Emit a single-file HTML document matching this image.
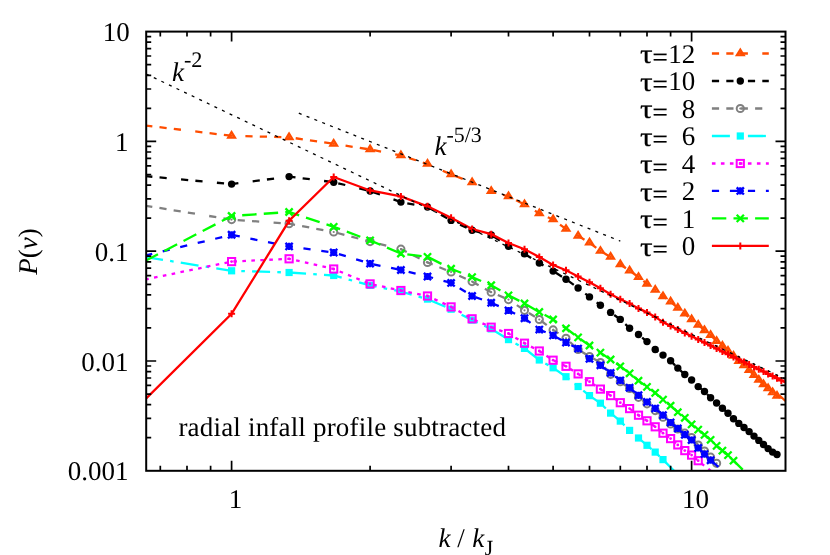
<!DOCTYPE html>
<html><head><meta charset="utf-8"><title>P(v) spectrum</title>
<style>
html,body{margin:0;padding:0;background:#fff;}
svg{display:block;transform:translateZ(0);will-change:transform;}
text{text-rendering:geometricPrecision;font-variant-ligatures:none;font-family:"Liberation Serif",serif;font-size:27px;fill:#000;}
.i{font-style:italic;}
</style></head><body>
<svg width="830" height="555" viewBox="0 0 830 555">
<rect width="830" height="555" fill="#fff"/>
<defs><clipPath id="c"><rect x="146.2" y="31.6" width="639.3" height="439.2"/></clipPath></defs>
<polyline points="145.2,125.5 231.6,135.8 289.1,137.3 333.7,143.8 370.1,149.5 400.9,155.4 427.5,164.0 451.1,174.4 472.1,182.5 491.2,191.2 508.5,196.5 524.5,204.5 539.3,213.5 553.1,219.5 566.0,229.1 578.1,235.9 589.5,242.7 600.4,251.1 610.6,256.9 620.3,264.5 629.6,270.6 638.5,277.1 647.0,283.8 655.2,290.0 663.0,296.4 670.6,301.7 677.8,307.9 684.8,313.7 691.6,319.4 698.2,324.9 704.5,330.3 710.6,335.2 716.6,341.1 722.4,346.0 728.0,351.0 733.5,356.0 738.8,361.2 744.0,365.5 749.1,370.2 754.0,375.1 758.8,379.9 763.5,384.4 768.1,388.5 772.6,392.5 777.0,396.0 786.5,401.2" fill="none" stroke="#ff4d00" stroke-width="2.3" stroke-dasharray="7.20 7.20 7.20 7.20 7.20 14.40" clip-path="url(#c)"/>
<path d="M231.6 131.9L228.1 137.6H235.1Z" fill="#ff4d00" fill-opacity="0.55" stroke="#ff4d00" stroke-width="2.1" stroke-linejoin="miter"/><circle cx="231.6" cy="135.6" r="1.2" fill="#ff4d00"/>
<path d="M289.1 133.4L285.6 139.1H292.6Z" fill="#ff4d00" fill-opacity="0.55" stroke="#ff4d00" stroke-width="2.1" stroke-linejoin="miter"/><circle cx="289.1" cy="137.1" r="1.2" fill="#ff4d00"/>
<path d="M333.7 139.9L330.2 145.6H337.2Z" fill="#ff4d00" fill-opacity="0.55" stroke="#ff4d00" stroke-width="2.1" stroke-linejoin="miter"/><circle cx="333.7" cy="143.6" r="1.2" fill="#ff4d00"/>
<path d="M370.1 145.6L366.6 151.2H373.6Z" fill="#ff4d00" fill-opacity="0.55" stroke="#ff4d00" stroke-width="2.1" stroke-linejoin="miter"/><circle cx="370.1" cy="149.3" r="1.2" fill="#ff4d00"/>
<path d="M400.9 151.5L397.4 157.2H404.4Z" fill="#ff4d00" fill-opacity="0.55" stroke="#ff4d00" stroke-width="2.1" stroke-linejoin="miter"/><circle cx="400.9" cy="155.2" r="1.2" fill="#ff4d00"/>
<path d="M427.5 160.1L424.0 165.8H431.0Z" fill="#ff4d00" fill-opacity="0.55" stroke="#ff4d00" stroke-width="2.1" stroke-linejoin="miter"/><circle cx="427.5" cy="163.8" r="1.2" fill="#ff4d00"/>
<path d="M451.1 170.5L447.6 176.2H454.6Z" fill="#ff4d00" fill-opacity="0.55" stroke="#ff4d00" stroke-width="2.1" stroke-linejoin="miter"/><circle cx="451.1" cy="174.2" r="1.2" fill="#ff4d00"/>
<path d="M472.1 178.6L468.6 184.2H475.6Z" fill="#ff4d00" fill-opacity="0.55" stroke="#ff4d00" stroke-width="2.1" stroke-linejoin="miter"/><circle cx="472.1" cy="182.3" r="1.2" fill="#ff4d00"/>
<path d="M491.2 187.3L487.7 192.9H494.7Z" fill="#ff4d00" fill-opacity="0.55" stroke="#ff4d00" stroke-width="2.1" stroke-linejoin="miter"/><circle cx="491.2" cy="191.0" r="1.2" fill="#ff4d00"/>
<path d="M508.5 192.6L505.0 198.2H512.0Z" fill="#ff4d00" fill-opacity="0.55" stroke="#ff4d00" stroke-width="2.1" stroke-linejoin="miter"/><circle cx="508.5" cy="196.3" r="1.2" fill="#ff4d00"/>
<path d="M524.5 200.6L521.0 206.2H528.0Z" fill="#ff4d00" fill-opacity="0.55" stroke="#ff4d00" stroke-width="2.1" stroke-linejoin="miter"/><circle cx="524.5" cy="204.3" r="1.2" fill="#ff4d00"/>
<path d="M539.3 209.6L535.8 215.2H542.8Z" fill="#ff4d00" fill-opacity="0.55" stroke="#ff4d00" stroke-width="2.1" stroke-linejoin="miter"/><circle cx="539.3" cy="213.3" r="1.2" fill="#ff4d00"/>
<path d="M553.1 215.6L549.6 221.2H556.6Z" fill="#ff4d00" fill-opacity="0.55" stroke="#ff4d00" stroke-width="2.1" stroke-linejoin="miter"/><circle cx="553.1" cy="219.3" r="1.2" fill="#ff4d00"/>
<path d="M566.0 225.2L562.5 230.8H569.5Z" fill="#ff4d00" fill-opacity="0.55" stroke="#ff4d00" stroke-width="2.1" stroke-linejoin="miter"/><circle cx="566.0" cy="228.9" r="1.2" fill="#ff4d00"/>
<path d="M578.1 232.0L574.6 237.7H581.6Z" fill="#ff4d00" fill-opacity="0.55" stroke="#ff4d00" stroke-width="2.1" stroke-linejoin="miter"/><circle cx="578.1" cy="235.7" r="1.2" fill="#ff4d00"/>
<path d="M589.5 238.8L586.0 244.4H593.0Z" fill="#ff4d00" fill-opacity="0.55" stroke="#ff4d00" stroke-width="2.1" stroke-linejoin="miter"/><circle cx="589.5" cy="242.5" r="1.2" fill="#ff4d00"/>
<path d="M600.4 247.2L596.9 252.8H603.9Z" fill="#ff4d00" fill-opacity="0.55" stroke="#ff4d00" stroke-width="2.1" stroke-linejoin="miter"/><circle cx="600.4" cy="250.9" r="1.2" fill="#ff4d00"/>
<path d="M610.6 253.0L607.1 258.6H614.1Z" fill="#ff4d00" fill-opacity="0.55" stroke="#ff4d00" stroke-width="2.1" stroke-linejoin="miter"/><circle cx="610.6" cy="256.7" r="1.2" fill="#ff4d00"/>
<path d="M620.3 260.6L616.8 266.2H623.8Z" fill="#ff4d00" fill-opacity="0.55" stroke="#ff4d00" stroke-width="2.1" stroke-linejoin="miter"/><circle cx="620.3" cy="264.3" r="1.2" fill="#ff4d00"/>
<path d="M629.6 266.7L626.1 272.4H633.1Z" fill="#ff4d00" fill-opacity="0.55" stroke="#ff4d00" stroke-width="2.1" stroke-linejoin="miter"/><circle cx="629.6" cy="270.4" r="1.2" fill="#ff4d00"/>
<path d="M638.5 273.2L635.0 278.9H642.0Z" fill="#ff4d00" fill-opacity="0.55" stroke="#ff4d00" stroke-width="2.1" stroke-linejoin="miter"/><circle cx="638.5" cy="276.9" r="1.2" fill="#ff4d00"/>
<path d="M647.0 279.9L643.5 285.6H650.5Z" fill="#ff4d00" fill-opacity="0.55" stroke="#ff4d00" stroke-width="2.1" stroke-linejoin="miter"/><circle cx="647.0" cy="283.6" r="1.2" fill="#ff4d00"/>
<path d="M655.2 286.1L651.7 291.8H658.7Z" fill="#ff4d00" fill-opacity="0.55" stroke="#ff4d00" stroke-width="2.1" stroke-linejoin="miter"/><circle cx="655.2" cy="289.8" r="1.2" fill="#ff4d00"/>
<path d="M663.0 292.5L659.5 298.1H666.5Z" fill="#ff4d00" fill-opacity="0.55" stroke="#ff4d00" stroke-width="2.1" stroke-linejoin="miter"/><circle cx="663.0" cy="296.2" r="1.2" fill="#ff4d00"/>
<path d="M670.6 297.8L667.1 303.4H674.1Z" fill="#ff4d00" fill-opacity="0.55" stroke="#ff4d00" stroke-width="2.1" stroke-linejoin="miter"/><circle cx="670.6" cy="301.5" r="1.2" fill="#ff4d00"/>
<path d="M677.8 304.0L674.3 309.6H681.3Z" fill="#ff4d00" fill-opacity="0.55" stroke="#ff4d00" stroke-width="2.1" stroke-linejoin="miter"/><circle cx="677.8" cy="307.7" r="1.2" fill="#ff4d00"/>
<path d="M684.8 309.8L681.3 315.4H688.3Z" fill="#ff4d00" fill-opacity="0.55" stroke="#ff4d00" stroke-width="2.1" stroke-linejoin="miter"/><circle cx="684.8" cy="313.5" r="1.2" fill="#ff4d00"/>
<path d="M691.6 315.5L688.1 321.1H695.1Z" fill="#ff4d00" fill-opacity="0.55" stroke="#ff4d00" stroke-width="2.1" stroke-linejoin="miter"/><circle cx="691.6" cy="319.2" r="1.2" fill="#ff4d00"/>
<path d="M698.2 321.0L694.7 326.6H701.7Z" fill="#ff4d00" fill-opacity="0.55" stroke="#ff4d00" stroke-width="2.1" stroke-linejoin="miter"/><circle cx="698.2" cy="324.7" r="1.2" fill="#ff4d00"/>
<path d="M704.5 326.4L701.0 332.1H708.0Z" fill="#ff4d00" fill-opacity="0.55" stroke="#ff4d00" stroke-width="2.1" stroke-linejoin="miter"/><circle cx="704.5" cy="330.1" r="1.2" fill="#ff4d00"/>
<path d="M710.6 331.3L707.1 336.9H714.1Z" fill="#ff4d00" fill-opacity="0.55" stroke="#ff4d00" stroke-width="2.1" stroke-linejoin="miter"/><circle cx="710.6" cy="335.0" r="1.2" fill="#ff4d00"/>
<path d="M716.6 337.2L713.1 342.9H720.1Z" fill="#ff4d00" fill-opacity="0.55" stroke="#ff4d00" stroke-width="2.1" stroke-linejoin="miter"/><circle cx="716.6" cy="340.9" r="1.2" fill="#ff4d00"/>
<path d="M722.4 342.1L718.9 347.8H725.9Z" fill="#ff4d00" fill-opacity="0.55" stroke="#ff4d00" stroke-width="2.1" stroke-linejoin="miter"/><circle cx="722.4" cy="345.8" r="1.2" fill="#ff4d00"/>
<path d="M728.0 347.1L724.5 352.8H731.5Z" fill="#ff4d00" fill-opacity="0.55" stroke="#ff4d00" stroke-width="2.1" stroke-linejoin="miter"/><circle cx="728.0" cy="350.8" r="1.2" fill="#ff4d00"/>
<path d="M733.5 352.1L730.0 357.8H737.0Z" fill="#ff4d00" fill-opacity="0.55" stroke="#ff4d00" stroke-width="2.1" stroke-linejoin="miter"/><circle cx="733.5" cy="355.8" r="1.2" fill="#ff4d00"/>
<path d="M738.8 357.3L735.3 362.9H742.3Z" fill="#ff4d00" fill-opacity="0.55" stroke="#ff4d00" stroke-width="2.1" stroke-linejoin="miter"/><circle cx="738.8" cy="361.0" r="1.2" fill="#ff4d00"/>
<path d="M744.0 361.6L740.5 367.2H747.5Z" fill="#ff4d00" fill-opacity="0.55" stroke="#ff4d00" stroke-width="2.1" stroke-linejoin="miter"/><circle cx="744.0" cy="365.3" r="1.2" fill="#ff4d00"/>
<path d="M749.1 366.3L745.6 371.9H752.6Z" fill="#ff4d00" fill-opacity="0.55" stroke="#ff4d00" stroke-width="2.1" stroke-linejoin="miter"/><circle cx="749.1" cy="370.0" r="1.2" fill="#ff4d00"/>
<path d="M754.0 371.2L750.5 376.9H757.5Z" fill="#ff4d00" fill-opacity="0.55" stroke="#ff4d00" stroke-width="2.1" stroke-linejoin="miter"/><circle cx="754.0" cy="374.9" r="1.2" fill="#ff4d00"/>
<path d="M758.8 376.0L755.3 381.6H762.3Z" fill="#ff4d00" fill-opacity="0.55" stroke="#ff4d00" stroke-width="2.1" stroke-linejoin="miter"/><circle cx="758.8" cy="379.7" r="1.2" fill="#ff4d00"/>
<path d="M763.5 380.5L760.0 386.1H767.0Z" fill="#ff4d00" fill-opacity="0.55" stroke="#ff4d00" stroke-width="2.1" stroke-linejoin="miter"/><circle cx="763.5" cy="384.2" r="1.2" fill="#ff4d00"/>
<path d="M768.1 384.6L764.6 390.2H771.6Z" fill="#ff4d00" fill-opacity="0.55" stroke="#ff4d00" stroke-width="2.1" stroke-linejoin="miter"/><circle cx="768.1" cy="388.3" r="1.2" fill="#ff4d00"/>
<path d="M772.6 388.6L769.1 394.2H776.1Z" fill="#ff4d00" fill-opacity="0.55" stroke="#ff4d00" stroke-width="2.1" stroke-linejoin="miter"/><circle cx="772.6" cy="392.3" r="1.2" fill="#ff4d00"/>
<path d="M777.0 392.1L773.5 397.8H780.5Z" fill="#ff4d00" fill-opacity="0.55" stroke="#ff4d00" stroke-width="2.1" stroke-linejoin="miter"/><circle cx="777.0" cy="395.8" r="1.2" fill="#ff4d00"/>
<path d="M779.5 395.5L785.5 401" stroke="#ff4d00" stroke-width="2.3" fill="none"/>
<polyline points="145.2,176.1 231.6,184.1 289.1,176.6 333.7,182.2 370.1,191.0 400.9,202.1 427.5,207.0 451.1,220.4 472.1,230.3 491.2,235.0 508.5,246.3 524.5,253.9 539.3,263.0 553.1,271.1 566.0,279.2 578.1,288.0 589.5,296.9 600.4,305.2 610.6,312.4 620.3,319.4 629.6,328.2 638.5,334.5 647.0,341.6 655.2,349.5 663.0,355.1 670.6,360.8 677.8,368.1 684.8,374.5 691.6,380.0 698.2,386.6 704.5,391.5 710.6,397.7 716.6,403.0 722.4,408.2 728.0,413.2 733.5,418.7 738.8,423.4 744.0,427.5 749.1,431.6 754.0,436.1 758.8,440.4 763.5,444.5 768.1,448.6 772.6,452.1 777.0,454.5" fill="none" stroke="#000000" stroke-width="2.3" stroke-dasharray="7.20 7.20 7.20 14.40" clip-path="url(#c)"/>
<circle cx="231.6" cy="184.1" r="3.7" fill="#000000"/>
<circle cx="289.1" cy="176.6" r="3.7" fill="#000000"/>
<circle cx="333.7" cy="182.2" r="3.7" fill="#000000"/>
<circle cx="370.1" cy="191.0" r="3.7" fill="#000000"/>
<circle cx="400.9" cy="202.1" r="3.7" fill="#000000"/>
<circle cx="427.5" cy="207.0" r="3.7" fill="#000000"/>
<circle cx="451.1" cy="220.4" r="3.7" fill="#000000"/>
<circle cx="472.1" cy="230.3" r="3.7" fill="#000000"/>
<circle cx="491.2" cy="235.0" r="3.7" fill="#000000"/>
<circle cx="508.5" cy="246.3" r="3.7" fill="#000000"/>
<circle cx="524.5" cy="253.9" r="3.7" fill="#000000"/>
<circle cx="539.3" cy="263.0" r="3.7" fill="#000000"/>
<circle cx="553.1" cy="271.1" r="3.7" fill="#000000"/>
<circle cx="566.0" cy="279.2" r="3.7" fill="#000000"/>
<circle cx="578.1" cy="288.0" r="3.7" fill="#000000"/>
<circle cx="589.5" cy="296.9" r="3.7" fill="#000000"/>
<circle cx="600.4" cy="305.2" r="3.7" fill="#000000"/>
<circle cx="610.6" cy="312.4" r="3.7" fill="#000000"/>
<circle cx="620.3" cy="319.4" r="3.7" fill="#000000"/>
<circle cx="629.6" cy="328.2" r="3.7" fill="#000000"/>
<circle cx="638.5" cy="334.5" r="3.7" fill="#000000"/>
<circle cx="647.0" cy="341.6" r="3.7" fill="#000000"/>
<circle cx="655.2" cy="349.5" r="3.7" fill="#000000"/>
<circle cx="663.0" cy="355.1" r="3.7" fill="#000000"/>
<circle cx="670.6" cy="360.8" r="3.7" fill="#000000"/>
<circle cx="677.8" cy="368.1" r="3.7" fill="#000000"/>
<circle cx="684.8" cy="374.5" r="3.7" fill="#000000"/>
<circle cx="691.6" cy="380.0" r="3.7" fill="#000000"/>
<circle cx="698.2" cy="386.6" r="3.7" fill="#000000"/>
<circle cx="704.5" cy="391.5" r="3.7" fill="#000000"/>
<circle cx="710.6" cy="397.7" r="3.7" fill="#000000"/>
<circle cx="716.6" cy="403.0" r="3.7" fill="#000000"/>
<circle cx="722.4" cy="408.2" r="3.7" fill="#000000"/>
<circle cx="728.0" cy="413.2" r="3.7" fill="#000000"/>
<circle cx="733.5" cy="418.7" r="3.7" fill="#000000"/>
<circle cx="738.8" cy="423.4" r="3.7" fill="#000000"/>
<circle cx="744.0" cy="427.5" r="3.7" fill="#000000"/>
<circle cx="749.1" cy="431.6" r="3.7" fill="#000000"/>
<circle cx="754.0" cy="436.1" r="3.7" fill="#000000"/>
<circle cx="758.8" cy="440.4" r="3.7" fill="#000000"/>
<circle cx="763.5" cy="444.5" r="3.7" fill="#000000"/>
<circle cx="768.1" cy="448.6" r="3.7" fill="#000000"/>
<circle cx="772.6" cy="452.1" r="3.7" fill="#000000"/>
<circle cx="777.0" cy="454.5" r="3.7" fill="#000000"/>
<polyline points="145.2,205.7 231.6,219.6 289.1,223.7 333.7,232.0 370.1,241.6 400.9,249.2 427.5,262.4 451.1,272.0 472.1,281.6 491.2,292.2 508.5,299.6 524.5,310.3 539.3,319.5 553.1,329.9 566.0,338.3 578.1,349.5 589.5,356.5 600.4,362.5 610.6,374.3 620.3,381.7 629.6,388.5 638.5,397.3 647.0,403.8 655.2,410.6 663.0,417.2 670.6,424.0 677.8,429.0 684.8,433.2 691.6,437.5 698.2,445.0 704.5,451.0 710.6,457.2 716.6,463.3" fill="none" stroke="#808080" stroke-width="2.3" stroke-dasharray="7.20 7.20 7.20 7.20 7.20 7.20 7.20 14.40" clip-path="url(#c)"/>
<circle cx="231.6" cy="219.6" r="3.6" stroke="#808080" stroke-width="2.0" fill="none"/><circle cx="231.6" cy="219.6" r="1.1" fill="#808080"/>
<circle cx="289.1" cy="223.7" r="3.6" stroke="#808080" stroke-width="2.0" fill="none"/><circle cx="289.1" cy="223.7" r="1.1" fill="#808080"/>
<circle cx="333.7" cy="232.0" r="3.6" stroke="#808080" stroke-width="2.0" fill="none"/><circle cx="333.7" cy="232.0" r="1.1" fill="#808080"/>
<circle cx="370.1" cy="241.6" r="3.6" stroke="#808080" stroke-width="2.0" fill="none"/><circle cx="370.1" cy="241.6" r="1.1" fill="#808080"/>
<circle cx="400.9" cy="249.2" r="3.6" stroke="#808080" stroke-width="2.0" fill="none"/><circle cx="400.9" cy="249.2" r="1.1" fill="#808080"/>
<circle cx="427.5" cy="262.4" r="3.6" stroke="#808080" stroke-width="2.0" fill="none"/><circle cx="427.5" cy="262.4" r="1.1" fill="#808080"/>
<circle cx="451.1" cy="272.0" r="3.6" stroke="#808080" stroke-width="2.0" fill="none"/><circle cx="451.1" cy="272.0" r="1.1" fill="#808080"/>
<circle cx="472.1" cy="281.6" r="3.6" stroke="#808080" stroke-width="2.0" fill="none"/><circle cx="472.1" cy="281.6" r="1.1" fill="#808080"/>
<circle cx="491.2" cy="292.2" r="3.6" stroke="#808080" stroke-width="2.0" fill="none"/><circle cx="491.2" cy="292.2" r="1.1" fill="#808080"/>
<circle cx="508.5" cy="299.6" r="3.6" stroke="#808080" stroke-width="2.0" fill="none"/><circle cx="508.5" cy="299.6" r="1.1" fill="#808080"/>
<circle cx="524.5" cy="310.3" r="3.6" stroke="#808080" stroke-width="2.0" fill="none"/><circle cx="524.5" cy="310.3" r="1.1" fill="#808080"/>
<circle cx="539.3" cy="319.5" r="3.6" stroke="#808080" stroke-width="2.0" fill="none"/><circle cx="539.3" cy="319.5" r="1.1" fill="#808080"/>
<circle cx="553.1" cy="329.9" r="3.6" stroke="#808080" stroke-width="2.0" fill="none"/><circle cx="553.1" cy="329.9" r="1.1" fill="#808080"/>
<circle cx="566.0" cy="338.3" r="3.6" stroke="#808080" stroke-width="2.0" fill="none"/><circle cx="566.0" cy="338.3" r="1.1" fill="#808080"/>
<circle cx="578.1" cy="349.5" r="3.6" stroke="#808080" stroke-width="2.0" fill="none"/><circle cx="578.1" cy="349.5" r="1.1" fill="#808080"/>
<circle cx="589.5" cy="356.5" r="3.6" stroke="#808080" stroke-width="2.0" fill="none"/><circle cx="589.5" cy="356.5" r="1.1" fill="#808080"/>
<circle cx="600.4" cy="362.5" r="3.6" stroke="#808080" stroke-width="2.0" fill="none"/><circle cx="600.4" cy="362.5" r="1.1" fill="#808080"/>
<circle cx="610.6" cy="374.3" r="3.6" stroke="#808080" stroke-width="2.0" fill="none"/><circle cx="610.6" cy="374.3" r="1.1" fill="#808080"/>
<circle cx="620.3" cy="381.7" r="3.6" stroke="#808080" stroke-width="2.0" fill="none"/><circle cx="620.3" cy="381.7" r="1.1" fill="#808080"/>
<circle cx="629.6" cy="388.5" r="3.6" stroke="#808080" stroke-width="2.0" fill="none"/><circle cx="629.6" cy="388.5" r="1.1" fill="#808080"/>
<circle cx="638.5" cy="397.3" r="3.6" stroke="#808080" stroke-width="2.0" fill="none"/><circle cx="638.5" cy="397.3" r="1.1" fill="#808080"/>
<circle cx="647.0" cy="403.8" r="3.6" stroke="#808080" stroke-width="2.0" fill="none"/><circle cx="647.0" cy="403.8" r="1.1" fill="#808080"/>
<circle cx="655.2" cy="410.6" r="3.6" stroke="#808080" stroke-width="2.0" fill="none"/><circle cx="655.2" cy="410.6" r="1.1" fill="#808080"/>
<circle cx="663.0" cy="417.2" r="3.6" stroke="#808080" stroke-width="2.0" fill="none"/><circle cx="663.0" cy="417.2" r="1.1" fill="#808080"/>
<circle cx="670.6" cy="424.0" r="3.6" stroke="#808080" stroke-width="2.0" fill="none"/><circle cx="670.6" cy="424.0" r="1.1" fill="#808080"/>
<circle cx="677.8" cy="429.0" r="3.6" stroke="#808080" stroke-width="2.0" fill="none"/><circle cx="677.8" cy="429.0" r="1.1" fill="#808080"/>
<circle cx="684.8" cy="433.2" r="3.6" stroke="#808080" stroke-width="2.0" fill="none"/><circle cx="684.8" cy="433.2" r="1.1" fill="#808080"/>
<circle cx="691.6" cy="437.5" r="3.6" stroke="#808080" stroke-width="2.0" fill="none"/><circle cx="691.6" cy="437.5" r="1.1" fill="#808080"/>
<circle cx="698.2" cy="445.0" r="3.6" stroke="#808080" stroke-width="2.0" fill="none"/><circle cx="698.2" cy="445.0" r="1.1" fill="#808080"/>
<circle cx="704.5" cy="451.0" r="3.6" stroke="#808080" stroke-width="2.0" fill="none"/><circle cx="704.5" cy="451.0" r="1.1" fill="#808080"/>
<circle cx="710.6" cy="457.2" r="3.6" stroke="#808080" stroke-width="2.0" fill="none"/><circle cx="710.6" cy="457.2" r="1.1" fill="#808080"/>
<circle cx="716.6" cy="463.3" r="3.6" stroke="#808080" stroke-width="2.0" fill="none"/><circle cx="716.6" cy="463.3" r="1.1" fill="#808080"/>
<polyline points="145.2,257.0 231.6,270.8 289.1,272.5 333.7,275.5 370.1,285.4 400.9,291.5 427.5,299.1 451.1,309.2 472.1,320.1 491.2,328.9 508.5,339.6 524.5,348.4 539.3,360.0 553.1,367.8 566.0,376.7 578.1,386.5 589.5,395.6 600.4,403.2 610.6,413.1 620.3,421.1 629.6,430.4 638.5,438.0 647.0,445.3 655.2,452.1 663.0,459.6 675.0,471.7" fill="none" stroke="#00ffff" stroke-width="2.3" stroke-dasharray="18.00 7.20 3.60 7.20" clip-path="url(#c)"/>
<rect x="228.0" y="267.2" width="7.2" height="7.2" fill="#00ffff"/>
<rect x="285.5" y="268.9" width="7.2" height="7.2" fill="#00ffff"/>
<rect x="330.1" y="271.9" width="7.2" height="7.2" fill="#00ffff"/>
<rect x="366.5" y="281.8" width="7.2" height="7.2" fill="#00ffff"/>
<rect x="397.3" y="287.9" width="7.2" height="7.2" fill="#00ffff"/>
<rect x="423.9" y="295.5" width="7.2" height="7.2" fill="#00ffff"/>
<rect x="447.5" y="305.6" width="7.2" height="7.2" fill="#00ffff"/>
<rect x="468.5" y="316.5" width="7.2" height="7.2" fill="#00ffff"/>
<rect x="487.6" y="325.3" width="7.2" height="7.2" fill="#00ffff"/>
<rect x="504.9" y="336.0" width="7.2" height="7.2" fill="#00ffff"/>
<rect x="520.9" y="344.8" width="7.2" height="7.2" fill="#00ffff"/>
<rect x="535.7" y="356.4" width="7.2" height="7.2" fill="#00ffff"/>
<rect x="549.5" y="364.2" width="7.2" height="7.2" fill="#00ffff"/>
<rect x="562.4" y="373.1" width="7.2" height="7.2" fill="#00ffff"/>
<rect x="574.5" y="382.9" width="7.2" height="7.2" fill="#00ffff"/>
<rect x="585.9" y="392.0" width="7.2" height="7.2" fill="#00ffff"/>
<rect x="596.8" y="399.6" width="7.2" height="7.2" fill="#00ffff"/>
<rect x="607.0" y="409.5" width="7.2" height="7.2" fill="#00ffff"/>
<rect x="616.7" y="417.5" width="7.2" height="7.2" fill="#00ffff"/>
<rect x="626.0" y="426.8" width="7.2" height="7.2" fill="#00ffff"/>
<rect x="634.9" y="434.4" width="7.2" height="7.2" fill="#00ffff"/>
<rect x="643.4" y="441.7" width="7.2" height="7.2" fill="#00ffff"/>
<rect x="651.6" y="448.5" width="7.2" height="7.2" fill="#00ffff"/>
<rect x="659.4" y="456.0" width="7.2" height="7.2" fill="#00ffff"/>
<polyline points="145.2,279.5 231.6,261.6 289.1,258.8 333.7,269.0 370.1,283.9 400.9,290.5 427.5,296.0 451.1,306.9 472.1,318.8 491.2,327.2 508.5,333.5 524.5,343.2 539.3,351.0 553.1,360.2 566.0,366.3 578.1,373.9 589.5,381.7 600.4,389.1 610.6,395.6 620.3,402.7 629.6,408.6 638.5,415.2 647.0,420.8 655.2,426.8 663.0,433.2 670.6,438.6 677.8,444.9 684.8,450.6 691.6,455.1 698.2,460.7 711.5,471.5" fill="none" stroke="#ff00ff" stroke-width="2.3" stroke-dasharray="3.60 5.40" clip-path="url(#c)"/>
<rect x="228.0" y="258.0" width="7.2" height="7.2" stroke="#ff00ff" stroke-width="2.0" fill="none"/><circle cx="231.6" cy="261.6" r="1.4" fill="#ff00ff"/>
<rect x="285.5" y="255.2" width="7.2" height="7.2" stroke="#ff00ff" stroke-width="2.0" fill="none"/><circle cx="289.1" cy="258.8" r="1.4" fill="#ff00ff"/>
<rect x="330.1" y="265.4" width="7.2" height="7.2" stroke="#ff00ff" stroke-width="2.0" fill="none"/><circle cx="333.7" cy="269.0" r="1.4" fill="#ff00ff"/>
<rect x="366.5" y="280.3" width="7.2" height="7.2" stroke="#ff00ff" stroke-width="2.0" fill="none"/><circle cx="370.1" cy="283.9" r="1.4" fill="#ff00ff"/>
<rect x="397.3" y="286.9" width="7.2" height="7.2" stroke="#ff00ff" stroke-width="2.0" fill="none"/><circle cx="400.9" cy="290.5" r="1.4" fill="#ff00ff"/>
<rect x="423.9" y="292.4" width="7.2" height="7.2" stroke="#ff00ff" stroke-width="2.0" fill="none"/><circle cx="427.5" cy="296.0" r="1.4" fill="#ff00ff"/>
<rect x="447.5" y="303.3" width="7.2" height="7.2" stroke="#ff00ff" stroke-width="2.0" fill="none"/><circle cx="451.1" cy="306.9" r="1.4" fill="#ff00ff"/>
<rect x="468.5" y="315.2" width="7.2" height="7.2" stroke="#ff00ff" stroke-width="2.0" fill="none"/><circle cx="472.1" cy="318.8" r="1.4" fill="#ff00ff"/>
<rect x="487.6" y="323.6" width="7.2" height="7.2" stroke="#ff00ff" stroke-width="2.0" fill="none"/><circle cx="491.2" cy="327.2" r="1.4" fill="#ff00ff"/>
<rect x="504.9" y="329.9" width="7.2" height="7.2" stroke="#ff00ff" stroke-width="2.0" fill="none"/><circle cx="508.5" cy="333.5" r="1.4" fill="#ff00ff"/>
<rect x="520.9" y="339.6" width="7.2" height="7.2" stroke="#ff00ff" stroke-width="2.0" fill="none"/><circle cx="524.5" cy="343.2" r="1.4" fill="#ff00ff"/>
<rect x="535.7" y="347.4" width="7.2" height="7.2" stroke="#ff00ff" stroke-width="2.0" fill="none"/><circle cx="539.3" cy="351.0" r="1.4" fill="#ff00ff"/>
<rect x="549.5" y="356.6" width="7.2" height="7.2" stroke="#ff00ff" stroke-width="2.0" fill="none"/><circle cx="553.1" cy="360.2" r="1.4" fill="#ff00ff"/>
<rect x="562.4" y="362.7" width="7.2" height="7.2" stroke="#ff00ff" stroke-width="2.0" fill="none"/><circle cx="566.0" cy="366.3" r="1.4" fill="#ff00ff"/>
<rect x="574.5" y="370.3" width="7.2" height="7.2" stroke="#ff00ff" stroke-width="2.0" fill="none"/><circle cx="578.1" cy="373.9" r="1.4" fill="#ff00ff"/>
<rect x="585.9" y="378.1" width="7.2" height="7.2" stroke="#ff00ff" stroke-width="2.0" fill="none"/><circle cx="589.5" cy="381.7" r="1.4" fill="#ff00ff"/>
<rect x="596.8" y="385.5" width="7.2" height="7.2" stroke="#ff00ff" stroke-width="2.0" fill="none"/><circle cx="600.4" cy="389.1" r="1.4" fill="#ff00ff"/>
<rect x="607.0" y="392.0" width="7.2" height="7.2" stroke="#ff00ff" stroke-width="2.0" fill="none"/><circle cx="610.6" cy="395.6" r="1.4" fill="#ff00ff"/>
<rect x="616.7" y="399.1" width="7.2" height="7.2" stroke="#ff00ff" stroke-width="2.0" fill="none"/><circle cx="620.3" cy="402.7" r="1.4" fill="#ff00ff"/>
<rect x="626.0" y="405.0" width="7.2" height="7.2" stroke="#ff00ff" stroke-width="2.0" fill="none"/><circle cx="629.6" cy="408.6" r="1.4" fill="#ff00ff"/>
<rect x="634.9" y="411.6" width="7.2" height="7.2" stroke="#ff00ff" stroke-width="2.0" fill="none"/><circle cx="638.5" cy="415.2" r="1.4" fill="#ff00ff"/>
<rect x="643.4" y="417.2" width="7.2" height="7.2" stroke="#ff00ff" stroke-width="2.0" fill="none"/><circle cx="647.0" cy="420.8" r="1.4" fill="#ff00ff"/>
<rect x="651.6" y="423.2" width="7.2" height="7.2" stroke="#ff00ff" stroke-width="2.0" fill="none"/><circle cx="655.2" cy="426.8" r="1.4" fill="#ff00ff"/>
<rect x="659.4" y="429.6" width="7.2" height="7.2" stroke="#ff00ff" stroke-width="2.0" fill="none"/><circle cx="663.0" cy="433.2" r="1.4" fill="#ff00ff"/>
<rect x="667.0" y="435.0" width="7.2" height="7.2" stroke="#ff00ff" stroke-width="2.0" fill="none"/><circle cx="670.6" cy="438.6" r="1.4" fill="#ff00ff"/>
<rect x="674.2" y="441.3" width="7.2" height="7.2" stroke="#ff00ff" stroke-width="2.0" fill="none"/><circle cx="677.8" cy="444.9" r="1.4" fill="#ff00ff"/>
<rect x="681.2" y="447.0" width="7.2" height="7.2" stroke="#ff00ff" stroke-width="2.0" fill="none"/><circle cx="684.8" cy="450.6" r="1.4" fill="#ff00ff"/>
<rect x="688.0" y="451.5" width="7.2" height="7.2" stroke="#ff00ff" stroke-width="2.0" fill="none"/><circle cx="691.6" cy="455.1" r="1.4" fill="#ff00ff"/>
<rect x="694.6" y="457.1" width="7.2" height="7.2" stroke="#ff00ff" stroke-width="2.0" fill="none"/><circle cx="698.2" cy="460.7" r="1.4" fill="#ff00ff"/>
<polyline points="145.2,255.6 231.6,234.8 289.1,246.4 333.7,252.5 370.1,263.6 400.9,270.0 427.5,276.5 451.1,282.9 472.1,296.0 491.2,302.8 508.5,310.5 524.5,318.2 539.3,329.6 553.1,335.4 566.0,342.5 578.1,348.6 589.5,358.7 600.4,365.3 610.6,372.9 620.3,380.4 629.6,387.8 638.5,395.3 647.0,402.0 655.2,408.4 663.0,415.2 670.6,422.5 677.8,428.5 684.8,434.7 691.6,440.0 698.2,448.0 704.5,454.1 710.6,460.2" fill="none" stroke="#0000ff" stroke-width="2.3" stroke-dasharray="7.20 10.80" clip-path="url(#c)"/>
<path d="M228.0 231.2L235.2 238.4M228.0 238.4L235.2 231.2M228.0 234.8H235.2M231.6 231.2V238.4" stroke="#0000ff" stroke-width="2.4" fill="none"/>
<path d="M285.5 242.8L292.7 250.0M285.5 250.0L292.7 242.8M285.5 246.4H292.7M289.1 242.8V250.0" stroke="#0000ff" stroke-width="2.4" fill="none"/>
<path d="M330.1 248.9L337.3 256.1M330.1 256.1L337.3 248.9M330.1 252.5H337.3M333.7 248.9V256.1" stroke="#0000ff" stroke-width="2.4" fill="none"/>
<path d="M366.5 260.0L373.7 267.2M366.5 267.2L373.7 260.0M366.5 263.6H373.7M370.1 260.0V267.2" stroke="#0000ff" stroke-width="2.4" fill="none"/>
<path d="M397.3 266.4L404.5 273.6M397.3 273.6L404.5 266.4M397.3 270.0H404.5M400.9 266.4V273.6" stroke="#0000ff" stroke-width="2.4" fill="none"/>
<path d="M423.9 272.9L431.1 280.1M423.9 280.1L431.1 272.9M423.9 276.5H431.1M427.5 272.9V280.1" stroke="#0000ff" stroke-width="2.4" fill="none"/>
<path d="M447.5 279.3L454.7 286.5M447.5 286.5L454.7 279.3M447.5 282.9H454.7M451.1 279.3V286.5" stroke="#0000ff" stroke-width="2.4" fill="none"/>
<path d="M468.5 292.4L475.7 299.6M468.5 299.6L475.7 292.4M468.5 296.0H475.7M472.1 292.4V299.6" stroke="#0000ff" stroke-width="2.4" fill="none"/>
<path d="M487.6 299.2L494.8 306.4M487.6 306.4L494.8 299.2M487.6 302.8H494.8M491.2 299.2V306.4" stroke="#0000ff" stroke-width="2.4" fill="none"/>
<path d="M504.9 306.9L512.1 314.1M504.9 314.1L512.1 306.9M504.9 310.5H512.1M508.5 306.9V314.1" stroke="#0000ff" stroke-width="2.4" fill="none"/>
<path d="M520.9 314.6L528.1 321.8M520.9 321.8L528.1 314.6M520.9 318.2H528.1M524.5 314.6V321.8" stroke="#0000ff" stroke-width="2.4" fill="none"/>
<path d="M535.7 326.0L542.9 333.2M535.7 333.2L542.9 326.0M535.7 329.6H542.9M539.3 326.0V333.2" stroke="#0000ff" stroke-width="2.4" fill="none"/>
<path d="M549.5 331.8L556.7 339.0M549.5 339.0L556.7 331.8M549.5 335.4H556.7M553.1 331.8V339.0" stroke="#0000ff" stroke-width="2.4" fill="none"/>
<path d="M562.4 338.9L569.6 346.1M562.4 346.1L569.6 338.9M562.4 342.5H569.6M566.0 338.9V346.1" stroke="#0000ff" stroke-width="2.4" fill="none"/>
<path d="M574.5 345.0L581.7 352.2M574.5 352.2L581.7 345.0M574.5 348.6H581.7M578.1 345.0V352.2" stroke="#0000ff" stroke-width="2.4" fill="none"/>
<path d="M585.9 355.1L593.1 362.3M585.9 362.3L593.1 355.1M585.9 358.7H593.1M589.5 355.1V362.3" stroke="#0000ff" stroke-width="2.4" fill="none"/>
<path d="M596.8 361.7L604.0 368.9M596.8 368.9L604.0 361.7M596.8 365.3H604.0M600.4 361.7V368.9" stroke="#0000ff" stroke-width="2.4" fill="none"/>
<path d="M607.0 369.3L614.2 376.5M607.0 376.5L614.2 369.3M607.0 372.9H614.2M610.6 369.3V376.5" stroke="#0000ff" stroke-width="2.4" fill="none"/>
<path d="M616.7 376.8L623.9 384.0M616.7 384.0L623.9 376.8M616.7 380.4H623.9M620.3 376.8V384.0" stroke="#0000ff" stroke-width="2.4" fill="none"/>
<path d="M626.0 384.2L633.2 391.4M626.0 391.4L633.2 384.2M626.0 387.8H633.2M629.6 384.2V391.4" stroke="#0000ff" stroke-width="2.4" fill="none"/>
<path d="M634.9 391.7L642.1 398.9M634.9 398.9L642.1 391.7M634.9 395.3H642.1M638.5 391.7V398.9" stroke="#0000ff" stroke-width="2.4" fill="none"/>
<path d="M643.4 398.4L650.6 405.6M643.4 405.6L650.6 398.4M643.4 402.0H650.6M647.0 398.4V405.6" stroke="#0000ff" stroke-width="2.4" fill="none"/>
<path d="M651.6 404.8L658.8 412.0M651.6 412.0L658.8 404.8M651.6 408.4H658.8M655.2 404.8V412.0" stroke="#0000ff" stroke-width="2.4" fill="none"/>
<path d="M659.4 411.6L666.6 418.8M659.4 418.8L666.6 411.6M659.4 415.2H666.6M663.0 411.6V418.8" stroke="#0000ff" stroke-width="2.4" fill="none"/>
<path d="M667.0 418.9L674.2 426.1M667.0 426.1L674.2 418.9M667.0 422.5H674.2M670.6 418.9V426.1" stroke="#0000ff" stroke-width="2.4" fill="none"/>
<path d="M674.2 424.9L681.4 432.1M674.2 432.1L681.4 424.9M674.2 428.5H681.4M677.8 424.9V432.1" stroke="#0000ff" stroke-width="2.4" fill="none"/>
<path d="M681.2 431.1L688.4 438.3M681.2 438.3L688.4 431.1M681.2 434.7H688.4M684.8 431.1V438.3" stroke="#0000ff" stroke-width="2.4" fill="none"/>
<path d="M688.0 436.4L695.2 443.6M688.0 443.6L695.2 436.4M688.0 440.0H695.2M691.6 436.4V443.6" stroke="#0000ff" stroke-width="2.4" fill="none"/>
<path d="M694.6 444.4L701.8 451.6M694.6 451.6L701.8 444.4M694.6 448.0H701.8M698.2 444.4V451.6" stroke="#0000ff" stroke-width="2.4" fill="none"/>
<path d="M700.9 450.5L708.1 457.7M700.9 457.7L708.1 450.5M700.9 454.1H708.1M704.5 450.5V457.7" stroke="#0000ff" stroke-width="2.4" fill="none"/>
<path d="M707.0 456.6L714.2 463.8M707.0 463.8L714.2 456.6M707.0 460.2H714.2M710.6 456.6V463.8" stroke="#0000ff" stroke-width="2.4" fill="none"/>
<path d="M712.5 461.9L718.4 466.9" stroke="#0000ff" stroke-width="2.3" fill="none"/>
<polyline points="145.2,260.9 231.6,216.0 289.1,212.0 333.7,226.8 370.1,240.4 400.9,253.5 427.5,256.8 451.1,268.7 472.1,277.1 491.2,285.2 508.5,295.3 524.5,303.5 539.3,312.0 553.1,319.5 566.0,328.3 578.1,337.4 589.5,345.5 600.4,352.6 610.6,359.5 620.3,366.3 629.6,373.3 638.5,380.7 647.0,386.9 655.2,392.9 663.0,399.6 670.6,405.7 677.8,412.2 684.8,417.8 691.6,424.4 698.2,429.6 704.5,434.9 710.6,439.8 716.6,445.9 722.4,450.6 728.0,455.1 733.5,460.7 745.0,471.8" fill="none" stroke="#00ff00" stroke-width="2.3" stroke-dasharray="14.40 7.20" clip-path="url(#c)"/>
<path d="M228.0 212.4L235.2 219.6M228.0 219.6L235.2 212.4" stroke="#00ff00" stroke-width="2.3" fill="none"/>
<path d="M285.5 208.4L292.7 215.6M285.5 215.6L292.7 208.4" stroke="#00ff00" stroke-width="2.3" fill="none"/>
<path d="M330.1 223.2L337.3 230.4M330.1 230.4L337.3 223.2" stroke="#00ff00" stroke-width="2.3" fill="none"/>
<path d="M366.5 236.8L373.7 244.0M366.5 244.0L373.7 236.8" stroke="#00ff00" stroke-width="2.3" fill="none"/>
<path d="M397.3 249.9L404.5 257.1M397.3 257.1L404.5 249.9" stroke="#00ff00" stroke-width="2.3" fill="none"/>
<path d="M423.9 253.2L431.1 260.4M423.9 260.4L431.1 253.2" stroke="#00ff00" stroke-width="2.3" fill="none"/>
<path d="M447.5 265.1L454.7 272.3M447.5 272.3L454.7 265.1" stroke="#00ff00" stroke-width="2.3" fill="none"/>
<path d="M468.5 273.5L475.7 280.7M468.5 280.7L475.7 273.5" stroke="#00ff00" stroke-width="2.3" fill="none"/>
<path d="M487.6 281.6L494.8 288.8M487.6 288.8L494.8 281.6" stroke="#00ff00" stroke-width="2.3" fill="none"/>
<path d="M504.9 291.7L512.1 298.9M504.9 298.9L512.1 291.7" stroke="#00ff00" stroke-width="2.3" fill="none"/>
<path d="M520.9 299.9L528.1 307.1M520.9 307.1L528.1 299.9" stroke="#00ff00" stroke-width="2.3" fill="none"/>
<path d="M535.7 308.4L542.9 315.6M535.7 315.6L542.9 308.4" stroke="#00ff00" stroke-width="2.3" fill="none"/>
<path d="M549.5 315.9L556.7 323.1M549.5 323.1L556.7 315.9" stroke="#00ff00" stroke-width="2.3" fill="none"/>
<path d="M562.4 324.7L569.6 331.9M562.4 331.9L569.6 324.7" stroke="#00ff00" stroke-width="2.3" fill="none"/>
<path d="M574.5 333.8L581.7 341.0M574.5 341.0L581.7 333.8" stroke="#00ff00" stroke-width="2.3" fill="none"/>
<path d="M585.9 341.9L593.1 349.1M585.9 349.1L593.1 341.9" stroke="#00ff00" stroke-width="2.3" fill="none"/>
<path d="M596.8 349.0L604.0 356.2M596.8 356.2L604.0 349.0" stroke="#00ff00" stroke-width="2.3" fill="none"/>
<path d="M607.0 355.9L614.2 363.1M607.0 363.1L614.2 355.9" stroke="#00ff00" stroke-width="2.3" fill="none"/>
<path d="M616.7 362.7L623.9 369.9M616.7 369.9L623.9 362.7" stroke="#00ff00" stroke-width="2.3" fill="none"/>
<path d="M626.0 369.7L633.2 376.9M626.0 376.9L633.2 369.7" stroke="#00ff00" stroke-width="2.3" fill="none"/>
<path d="M634.9 377.1L642.1 384.3M634.9 384.3L642.1 377.1" stroke="#00ff00" stroke-width="2.3" fill="none"/>
<path d="M643.4 383.3L650.6 390.5M643.4 390.5L650.6 383.3" stroke="#00ff00" stroke-width="2.3" fill="none"/>
<path d="M651.6 389.3L658.8 396.5M651.6 396.5L658.8 389.3" stroke="#00ff00" stroke-width="2.3" fill="none"/>
<path d="M659.4 396.0L666.6 403.2M659.4 403.2L666.6 396.0" stroke="#00ff00" stroke-width="2.3" fill="none"/>
<path d="M667.0 402.1L674.2 409.3M667.0 409.3L674.2 402.1" stroke="#00ff00" stroke-width="2.3" fill="none"/>
<path d="M674.2 408.6L681.4 415.8M674.2 415.8L681.4 408.6" stroke="#00ff00" stroke-width="2.3" fill="none"/>
<path d="M681.2 414.2L688.4 421.4M681.2 421.4L688.4 414.2" stroke="#00ff00" stroke-width="2.3" fill="none"/>
<path d="M688.0 420.8L695.2 428.0M688.0 428.0L695.2 420.8" stroke="#00ff00" stroke-width="2.3" fill="none"/>
<path d="M694.6 426.0L701.8 433.2M694.6 433.2L701.8 426.0" stroke="#00ff00" stroke-width="2.3" fill="none"/>
<path d="M700.9 431.3L708.1 438.5M700.9 438.5L708.1 431.3" stroke="#00ff00" stroke-width="2.3" fill="none"/>
<path d="M707.0 436.2L714.2 443.4M707.0 443.4L714.2 436.2" stroke="#00ff00" stroke-width="2.3" fill="none"/>
<path d="M713.0 442.3L720.2 449.5M713.0 449.5L720.2 442.3" stroke="#00ff00" stroke-width="2.3" fill="none"/>
<path d="M718.8 447.0L726.0 454.2M718.8 454.2L726.0 447.0" stroke="#00ff00" stroke-width="2.3" fill="none"/>
<path d="M724.4 451.5L731.6 458.7M724.4 458.7L731.6 451.5" stroke="#00ff00" stroke-width="2.3" fill="none"/>
<path d="M729.9 457.1L737.1 464.3M729.9 464.3L737.1 457.1" stroke="#00ff00" stroke-width="2.3" fill="none"/>
<polyline points="145.2,399.4 231.6,313.8 289.1,220.8 333.7,177.0 370.1,190.5 400.9,196.4 427.5,206.3 451.1,217.7 472.1,229.0 491.2,234.2 508.5,243.0 524.5,249.3 539.3,256.9 553.1,265.0 566.0,270.2 578.1,276.6 589.5,282.3 600.4,288.3 610.6,294.3 620.3,299.3 629.6,303.5 638.5,308.4 647.0,312.4 655.2,316.9 663.0,322.2 670.6,325.9 677.8,329.5 684.8,332.9 691.6,336.3 698.2,339.5 704.5,342.6 710.6,345.6 716.6,348.6 722.4,351.4 728.0,354.2 733.5,356.9 738.8,359.5 744.0,362.1 749.1,364.5 754.0,367.0 758.8,369.3 763.5,371.6 768.1,373.9 772.6,376.1 777.0,378.3 781.3,380.4 786.5,383.0" fill="none" stroke="#ff0000" stroke-width="2.3" clip-path="url(#c)"/>
<path d="M228.1 313.8H235.1M231.6 310.3V317.3" stroke="#ff0000" stroke-width="2.0" fill="none"/>
<path d="M285.6 220.8H292.6M289.1 217.3V224.3" stroke="#ff0000" stroke-width="2.0" fill="none"/>
<path d="M330.2 177.0H337.2M333.7 173.5V180.5" stroke="#ff0000" stroke-width="2.0" fill="none"/>
<path d="M366.6 190.5H373.6M370.1 187.0V194.0" stroke="#ff0000" stroke-width="2.0" fill="none"/>
<path d="M397.4 196.4H404.4M400.9 192.9V199.9" stroke="#ff0000" stroke-width="2.0" fill="none"/>
<path d="M424.0 206.3H431.0M427.5 202.8V209.8" stroke="#ff0000" stroke-width="2.0" fill="none"/>
<path d="M447.6 217.7H454.6M451.1 214.2V221.2" stroke="#ff0000" stroke-width="2.0" fill="none"/>
<path d="M468.6 229.0H475.6M472.1 225.5V232.5" stroke="#ff0000" stroke-width="2.0" fill="none"/>
<path d="M487.7 234.2H494.7M491.2 230.7V237.7" stroke="#ff0000" stroke-width="2.0" fill="none"/>
<path d="M505.0 243.0H512.0M508.5 239.5V246.5" stroke="#ff0000" stroke-width="2.0" fill="none"/>
<path d="M521.0 249.3H528.0M524.5 245.8V252.8" stroke="#ff0000" stroke-width="2.0" fill="none"/>
<path d="M535.8 256.9H542.8M539.3 253.4V260.4" stroke="#ff0000" stroke-width="2.0" fill="none"/>
<path d="M549.6 265.0H556.6M553.1 261.5V268.5" stroke="#ff0000" stroke-width="2.0" fill="none"/>
<path d="M562.5 270.2H569.5M566.0 266.7V273.7" stroke="#ff0000" stroke-width="2.0" fill="none"/>
<path d="M574.6 276.6H581.6M578.1 273.1V280.1" stroke="#ff0000" stroke-width="2.0" fill="none"/>
<path d="M586.0 282.3H593.0M589.5 278.8V285.8" stroke="#ff0000" stroke-width="2.0" fill="none"/>
<path d="M596.9 288.3H603.9M600.4 284.8V291.8" stroke="#ff0000" stroke-width="2.0" fill="none"/>
<path d="M607.1 294.3H614.1M610.6 290.8V297.8" stroke="#ff0000" stroke-width="2.0" fill="none"/>
<path d="M616.8 299.3H623.8M620.3 295.8V302.8" stroke="#ff0000" stroke-width="2.0" fill="none"/>
<path d="M626.1 303.5H633.1M629.6 300.0V307.0" stroke="#ff0000" stroke-width="2.0" fill="none"/>
<path d="M635.0 308.4H642.0M638.5 304.9V311.9" stroke="#ff0000" stroke-width="2.0" fill="none"/>
<path d="M643.5 312.4H650.5M647.0 308.9V315.9" stroke="#ff0000" stroke-width="2.0" fill="none"/>
<path d="M651.7 316.9H658.7M655.2 313.4V320.4" stroke="#ff0000" stroke-width="2.0" fill="none"/>
<path d="M659.5 322.2H666.5M663.0 318.7V325.7" stroke="#ff0000" stroke-width="2.0" fill="none"/>
<path d="M667.1 325.9H674.1M670.6 322.4V329.4" stroke="#ff0000" stroke-width="2.0" fill="none"/>
<path d="M674.3 329.5H681.3M677.8 326.0V333.0" stroke="#ff0000" stroke-width="2.0" fill="none"/>
<path d="M681.3 332.9H688.3M684.8 329.4V336.4" stroke="#ff0000" stroke-width="2.0" fill="none"/>
<path d="M688.1 336.3H695.1M691.6 332.8V339.8" stroke="#ff0000" stroke-width="2.0" fill="none"/>
<path d="M694.7 339.5H701.7M698.2 336.0V343.0" stroke="#ff0000" stroke-width="2.0" fill="none"/>
<path d="M701.0 342.6H708.0M704.5 339.1V346.1" stroke="#ff0000" stroke-width="2.0" fill="none"/>
<path d="M707.1 345.6H714.1M710.6 342.1V349.1" stroke="#ff0000" stroke-width="2.0" fill="none"/>
<path d="M713.1 348.6H720.1M716.6 345.1V352.1" stroke="#ff0000" stroke-width="2.0" fill="none"/>
<path d="M718.9 351.4H725.9M722.4 347.9V354.9" stroke="#ff0000" stroke-width="2.0" fill="none"/>
<path d="M724.5 354.2H731.5M728.0 350.7V357.7" stroke="#ff0000" stroke-width="2.0" fill="none"/>
<path d="M730.0 356.9H737.0M733.5 353.4V360.4" stroke="#ff0000" stroke-width="2.0" fill="none"/>
<path d="M735.3 359.5H742.3M738.8 356.0V363.0" stroke="#ff0000" stroke-width="2.0" fill="none"/>
<path d="M740.5 362.1H747.5M744.0 358.6V365.6" stroke="#ff0000" stroke-width="2.0" fill="none"/>
<path d="M745.6 364.5H752.6M749.1 361.0V368.0" stroke="#ff0000" stroke-width="2.0" fill="none"/>
<path d="M750.5 367.0H757.5M754.0 363.5V370.5" stroke="#ff0000" stroke-width="2.0" fill="none"/>
<path d="M755.3 369.3H762.3M758.8 365.8V372.8" stroke="#ff0000" stroke-width="2.0" fill="none"/>
<path d="M760.0 371.6H767.0M763.5 368.1V375.1" stroke="#ff0000" stroke-width="2.0" fill="none"/>
<path d="M764.6 373.9H771.6M768.1 370.4V377.4" stroke="#ff0000" stroke-width="2.0" fill="none"/>
<path d="M769.1 376.1H776.1M772.6 372.6V379.6" stroke="#ff0000" stroke-width="2.0" fill="none"/>
<path d="M773.5 378.3H780.5M777.0 374.8V381.8" stroke="#ff0000" stroke-width="2.0" fill="none"/>
<path d="M777.8 380.4H784.8M781.3 376.9V383.9" stroke="#ff0000" stroke-width="2.0" fill="none"/>
<path d="M146.2 74.0L785.5 379.1" stroke="#000" stroke-width="1.3" stroke-dasharray="3 5.4" fill="none"/>
<path d="M298.8 113.2L620.3 241.1" stroke="#000" stroke-width="1.3" stroke-dasharray="3 5.4" fill="none"/>
<path d="M160.3 470.8v-5M160.3 31.6v5M187.0 470.8v-5M187.0 31.6v5M210.6 470.8v-5M210.6 31.6v5M370.1 470.8v-5M370.1 31.6v5M451.1 470.8v-5M451.1 31.6v5M508.5 470.8v-5M508.5 31.6v5M553.1 470.8v-5M553.1 31.6v5M589.5 470.8v-5M589.5 31.6v5M620.3 470.8v-5M620.3 31.6v5M647.0 470.8v-5M647.0 31.6v5M670.6 470.8v-5M670.6 31.6v5M231.6 470.8v-10M231.6 31.6v10M691.6 470.8v-10M691.6 31.6v10M146.2 108.3h5M785.5 108.3h-5M146.2 89.0h5M785.5 89.0h-5M146.2 75.3h5M785.5 75.3h-5M146.2 64.7h5M785.5 64.7h-5M146.2 56.0h5M785.5 56.0h-5M146.2 48.6h5M785.5 48.6h-5M146.2 42.2h5M785.5 42.2h-5M146.2 36.6h5M785.5 36.6h-5M146.2 218.1h5M785.5 218.1h-5M146.2 198.8h5M785.5 198.8h-5M146.2 185.1h5M785.5 185.1h-5M146.2 174.5h5M785.5 174.5h-5M146.2 165.8h5M785.5 165.8h-5M146.2 158.4h5M785.5 158.4h-5M146.2 152.0h5M785.5 152.0h-5M146.2 146.4h5M785.5 146.4h-5M146.2 327.9h5M785.5 327.9h-5M146.2 308.6h5M785.5 308.6h-5M146.2 294.9h5M785.5 294.9h-5M146.2 284.3h5M785.5 284.3h-5M146.2 275.6h5M785.5 275.6h-5M146.2 268.2h5M785.5 268.2h-5M146.2 261.8h5M785.5 261.8h-5M146.2 256.2h5M785.5 256.2h-5M146.2 437.7h5M785.5 437.7h-5M146.2 418.4h5M785.5 418.4h-5M146.2 404.7h5M785.5 404.7h-5M146.2 394.1h5M785.5 394.1h-5M146.2 385.4h5M785.5 385.4h-5M146.2 378.0h5M785.5 378.0h-5M146.2 371.6h5M785.5 371.6h-5M146.2 366.0h5M785.5 366.0h-5M146.2 141.4h10M785.5 141.4h-10M146.2 251.2h10M785.5 251.2h-10M146.2 361.0h10M785.5 361.0h-10" stroke="#000" stroke-width="1.7" fill="none"/>
<rect x="146.2" y="31.6" width="639.3" height="439.2" fill="none" stroke="#000" stroke-width="2"/>
<text x="129.8" y="41.1" text-anchor="end">10</text>
<text x="128.5" y="150.9" text-anchor="end">1</text>
<text x="128.5" y="260.7" text-anchor="end">0.1</text>
<text x="128.5" y="370.5" text-anchor="end">0.01</text>
<text x="128.5" y="480.3" text-anchor="end">0.001</text>
<text x="235.4" y="508" text-anchor="middle">1</text>
<text x="695.6" y="508" text-anchor="middle">10</text>
<text x="438.6" y="546.7" style="white-space:pre"><tspan class="i">k</tspan> / <tspan class="i" dx="0.6">k</tspan><tspan font-size="21.6" dy="8.4" dx="0.6">J</tspan></text>
<text transform="translate(36.8 251.4) rotate(-90)" text-anchor="middle"><tspan class="i">P</tspan>(<tspan class="i">v</tspan>)</text>
<text x="178.4" y="436" textLength="327.5" lengthAdjust="spacing">radial infall profile subtracted</text>
<text x="172" y="80.7"><tspan class="i">k</tspan><tspan font-size="22.2" dy="-13.3">-2</tspan></text>
<text x="434.5" y="155"><tspan class="i">k</tspan><tspan font-size="21.9" dy="-12.9">-5/3</tspan></text>
<path d="M711.9 53.5H768.8" stroke="#ff4d00" stroke-width="2.3" stroke-dasharray="7.20 7.20 7.20 7.20 7.20 14.40" fill="none"/>
<path d="M740.3 49.6L736.8 55.2H743.8Z" fill="#ff4d00" fill-opacity="0.55" stroke="#ff4d00" stroke-width="2.1" stroke-linejoin="miter"/><circle cx="740.3" cy="53.3" r="1.2" fill="#ff4d00"/>
<text x="695.3" y="62.9" text-anchor="end">12</text>
<text x="652.5" y="65.6" stroke="#000" stroke-width="0.3">=</text>
<text transform="translate(652.6 63.2) scale(1.17 1)" text-anchor="end" stroke="#000" stroke-width="0.2">τ</text>
<path d="M711.9 81.0H768.8" stroke="#000000" stroke-width="2.3" stroke-dasharray="7.20 7.20 7.20 14.40" fill="none"/>
<circle cx="740.3" cy="81.0" r="3.7" fill="#000000"/>
<text x="695.3" y="90.4" text-anchor="end">10</text>
<text x="652.5" y="93.1" stroke="#000" stroke-width="0.3">=</text>
<text transform="translate(652.6 90.7) scale(1.17 1)" text-anchor="end" stroke="#000" stroke-width="0.2">τ</text>
<path d="M711.9 108.5H768.8" stroke="#808080" stroke-width="2.3" stroke-dasharray="7.20 7.20 7.20 7.20 7.20 7.20 7.20 14.40" fill="none"/>
<circle cx="740.3" cy="108.5" r="3.6" stroke="#808080" stroke-width="2.0" fill="none"/><circle cx="740.3" cy="108.5" r="1.1" fill="#808080"/>
<text x="695.3" y="117.9" text-anchor="end">8</text>
<text x="652.5" y="120.6" stroke="#000" stroke-width="0.3">=</text>
<text transform="translate(652.6 118.2) scale(1.17 1)" text-anchor="end" stroke="#000" stroke-width="0.2">τ</text>
<path d="M711.9 136.0H768.8" stroke="#00ffff" stroke-width="2.3" stroke-dasharray="18.00 7.20 3.60 7.20" fill="none"/>
<rect x="736.7" y="132.4" width="7.2" height="7.2" fill="#00ffff"/>
<text x="695.3" y="145.4" text-anchor="end">6</text>
<text x="652.5" y="148.1" stroke="#000" stroke-width="0.3">=</text>
<text transform="translate(652.6 145.7) scale(1.17 1)" text-anchor="end" stroke="#000" stroke-width="0.2">τ</text>
<path d="M711.9 163.5H768.8" stroke="#ff00ff" stroke-width="2.3" stroke-dasharray="3.60 5.40" fill="none"/>
<rect x="736.7" y="159.9" width="7.2" height="7.2" stroke="#ff00ff" stroke-width="2.0" fill="none"/><circle cx="740.3" cy="163.5" r="1.4" fill="#ff00ff"/>
<text x="695.3" y="172.9" text-anchor="end">4</text>
<text x="652.5" y="175.6" stroke="#000" stroke-width="0.3">=</text>
<text transform="translate(652.6 173.2) scale(1.17 1)" text-anchor="end" stroke="#000" stroke-width="0.2">τ</text>
<path d="M711.9 190.9H768.8" stroke="#0000ff" stroke-width="2.3" stroke-dasharray="7.20 10.80" fill="none"/>
<path d="M736.7 187.3L743.9 194.5M736.7 194.5L743.9 187.3M736.7 190.9H743.9M740.3 187.3V194.5" stroke="#0000ff" stroke-width="2.4" fill="none"/>
<text x="695.3" y="200.3" text-anchor="end">2</text>
<text x="652.5" y="203.0" stroke="#000" stroke-width="0.3">=</text>
<text transform="translate(652.6 200.7) scale(1.17 1)" text-anchor="end" stroke="#000" stroke-width="0.2">τ</text>
<path d="M711.9 218.4H768.8" stroke="#00ff00" stroke-width="2.3" stroke-dasharray="14.40 7.20" fill="none"/>
<path d="M736.7 214.8L743.9 222.0M736.7 222.0L743.9 214.8" stroke="#00ff00" stroke-width="2.3" fill="none"/>
<text x="695.3" y="227.8" text-anchor="end">1</text>
<text x="652.5" y="230.5" stroke="#000" stroke-width="0.3">=</text>
<text transform="translate(652.6 228.1) scale(1.17 1)" text-anchor="end" stroke="#000" stroke-width="0.2">τ</text>
<path d="M711.9 245.9H768.8" stroke="#ff0000" stroke-width="2.3" fill="none"/>
<path d="M736.8 245.9H743.8M740.3 242.4V249.4" stroke="#ff0000" stroke-width="2.0" fill="none"/>
<text x="695.3" y="255.3" text-anchor="end">0</text>
<text x="652.5" y="258.0" stroke="#000" stroke-width="0.3">=</text>
<text transform="translate(652.6 255.6) scale(1.17 1)" text-anchor="end" stroke="#000" stroke-width="0.2">τ</text>
</svg></body></html>
